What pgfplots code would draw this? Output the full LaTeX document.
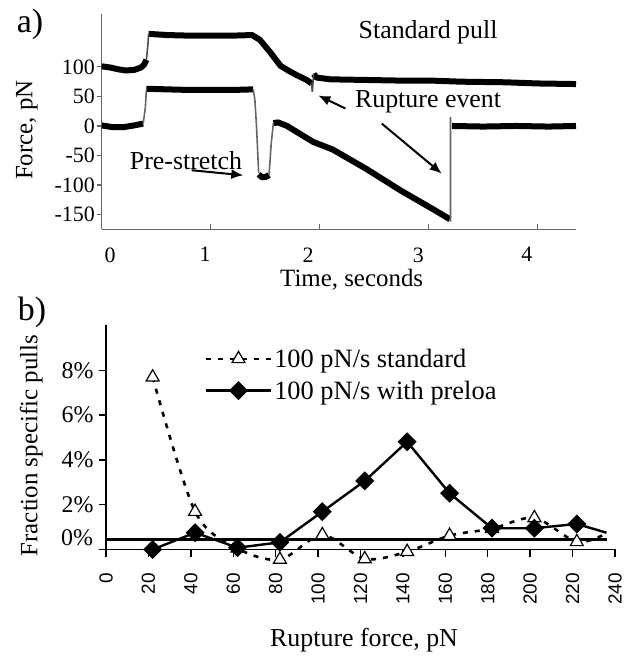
\documentclass[border=0pt]{standalone}
\usepackage{fontspec}
\setmainfont{Liberation Serif}
\newfontfamily\arialfont{Liberation Sans}
\usepackage{pgfplots}
\pgfplotsset{compat=1.18}
\usetikzlibrary{arrows.meta}
\newcommand{\fs}[1]{\fontsize{#1}{#1}\selectfont}
\begin{document}
\begin{tikzpicture}
\useasboundingbox (0,0) rectangle (636bp,662bp);
\node[font=\fs{34}] at (30bp,637.5bp) {a)};
\node[font=\fs{34}] at (32bp,350bp) {b)};
% ---------------- panel a ----------------
\begin{axis}[
  at={(101.7bp,432.7bp)}, anchor=south west, scale only axis,
  width=474.3bp, height=215.5bp,
  xmin=0, xmax=4.351, ymin=-175, ymax=190,
  axis x line*=bottom, axis y line*=left,
  axis line style={black!60, line width=1.1bp},
  tick style={black!60, line width=1.1bp},
  xtick align=inside, ytick align=outside,
  major tick length=5bp,
  xtick={0,1,2,3,4}, xticklabels={,,,,},
  extra x ticks={0.076,0.948,1.893,2.905,3.899},
  extra x tick labels={0,1,2,3,4},
  extra x tick style={major tick length=0pt},
  xticklabel style={font=\fs{22}, anchor=north, inner sep=0pt},
  xticklabel shift=18bp,
  ytick={-150,-100,-50,0,50,100},
  yticklabels={-150,-100,-50,0,50,100},
  yticklabel style={font=\fs{22}, anchor=east, inner sep=0pt},
  yticklabel shift=1.7bp,
  xlabel={Time, seconds}, ylabel={Force, pN},
  xlabel style={font=\fs{25}, at={(axis description cs:0.527,-0.267)}, anchor=base},
  ylabel style={font=\fs{25}, at={(axis description cs:-0.1575,0.46)}, anchor=center},
  unbounded coords=jump,
]
% upper trace (standard pull), thick noisy parts
\addplot[black, line width=6bp, line join=round] coordinates {
 (0,101) (0.08,99) (0.15,96) (0.22,94) (0.3,95) (0.36,99) (0.39,104) (0.41,112) (0.415,nan)
 (0.43,156) (0.6,154) (0.8,153) (1.0,153) (1.2,153) (1.38,154) (1.45,146) (1.55,124) (1.64,102) (1.72,93) (1.79,86) (1.88,78) (1.925,72) (1.93,nan)
 (1.945,88) (1.97,82) (2.1,79) (2.4,78) (2.7,77) (3.0,77) (3.3,75) (3.7,74) (4.0,72) (4.351,71)
};
\addplot[black!70, line width=1.6bp] coordinates {
 (0.41,112) (0.425,140) (0.43,156) (0.435,nan)
 (1.925,72) (1.932,58) (1.945,89)
};
% lower trace (pre-stretch), thick noisy parts
\addplot[black, line width=6bp, line join=round] coordinates {
 (0,1) (0.1,-2) (0.2,-2) (0.3,1) (0.38,4) (0.39,nan)
 (0.41,63) (0.6,62) (0.8,61) (1.0,61) (1.2,61) (1.39,62) (1.395,nan)
 (1.44,-82) (1.47,-87) (1.51,-86) (1.535,-83) (1.54,nan)
 (1.575,5) (1.62,6) (1.7,0) (1.94,-27) (2.12,-40) (2.43,-73) (2.74,-109) (3.04,-141) (3.195,-158) (3.2,nan)
 (3.215,0) (3.5,-1) (3.8,0) (4.1,-1) (4.351,0)
};
\addplot[black!60, line width=1.6bp] coordinates {
 (0.38,4) (0.40,30) (0.41,62) (0.415,nan)
 (1.39,62) (1.405,45) (1.42,0) (1.44,-80) (1.445,nan)
 (1.535,-83) (1.555,-30) (1.575,5) (1.58,nan)
 (3.2,-162) (3.2,15)
};
\node[font=\fs{26}] at (axis cs:2.994,158) {Standard pull};
\node[font=\fs{26}] at (axis cs:2.994,40.6) {Rupture event};
\node[font=\fs{26}] at (axis cs:0.773,-58) {Pre-stretch};
\draw[line width=2bp, -{Latex[length=12bp,width=10bp]}] (axis cs:0.826,-75) -- (axis cs:1.299,-83.5);
\draw[line width=2bp, -{Latex[length=12bp,width=10bp]}] (axis cs:2.235,29.6) -- (axis cs:1.987,51.7);
\draw[line width=2bp, -{Latex[length=12bp,width=10bp]}] (axis cs:2.569,4.1) -- (axis cs:3.119,-80.6);
\end{axis}
% ---------------- panel b ----------------
\begin{axis}[
  at={(106bp,112.5bp)}, anchor=south west, scale only axis,
  width=509bp, height=224bp,
  xmin=0, xmax=240, ymin=0, ymax=10,
  axis x line*=bottom, axis y line*=left,
  axis line style={black, line width=1.4bp},
  tick style={black, line width=1.4bp},
  tick align=outside,
  major tick length=7.5bp,
  xtick={0,20,...,240},
  xticklabels={0,20,40,60,80,100,120,140,160,180,200,220,240},
  xticklabel style={font=\arialfont\fs{19}, rotate=90, anchor=east, inner sep=0pt},
  xticklabel shift=16bp,
  ytick={0,2,4,6,8},
  yticklabels={,2\%,4\%,6\%,8\%},
  yticklabel style={font=\fs{24}, anchor=east, inner sep=0pt},
  yticklabel shift=4.7bp,
  extra y ticks={0.54},
  extra y tick labels={0\%},
  extra y tick style={major tick length=0pt, yticklabel shift=12.7bp},
  xlabel={Rupture force, pN}, ylabel={Fraction specific pulls},
  xlabel style={font=\fs{26}, at={(axis description cs:0.507,-0.404)}, anchor=center},
  ylabel style={font=\fs{25}, at={(axis description cs:-0.147,0.464)}, anchor=center},
  clip=false,
  legend style={at={(0.1935,0.905)}, anchor=north west, draw=none, fill=none,
    font=\fs{26.5}, inner sep=0pt, row sep=8bp, nodes={inner sep=2bp}},
  legend cell align=left,
  legend image code/.code={\draw[#1, mark indices={2}] plot coordinates {(0bp,0bp) (32.5bp,0bp) (65bp,0bp)};},
]
\addplot[black, line width=2.6bp, forget plot] coordinates {(0,0.44) (236,0.44)};
\addplot[black, line width=2.6bp, dash pattern=on 5bp off 7bp, smooth, tension=0.5,
  mark=triangle*, mark size=7.5bp, mark options={solid, fill=white, line width=1.2bp},
  mark indices={1,...,11}]
  coordinates {(22,7.69) (42,1.69) (62,0.05) (82,-0.45) (102,0.65) (122,-0.42) (142,-0.1) (162,0.62) (182,0.93) (202,1.41) (222,0.34) (236,0.72)};
\addlegendentry{100 pN/s standard}
\addplot[black, line width=2.4bp, mark=square*, mark size=5.5bp,
  mark options={rotate=45, fill=black}, mark indices={1,...,11}]
  coordinates {(22,0.0) (42,0.75) (62,0.08) (82,0.32) (102,1.69) (122,3.06) (142,4.81) (162,2.51) (182,0.95) (202,0.95) (222,1.14) (236,0.75)};
\addlegendentry{100 pN/s with preloa}
\end{axis}
\end{tikzpicture}
\end{document}
